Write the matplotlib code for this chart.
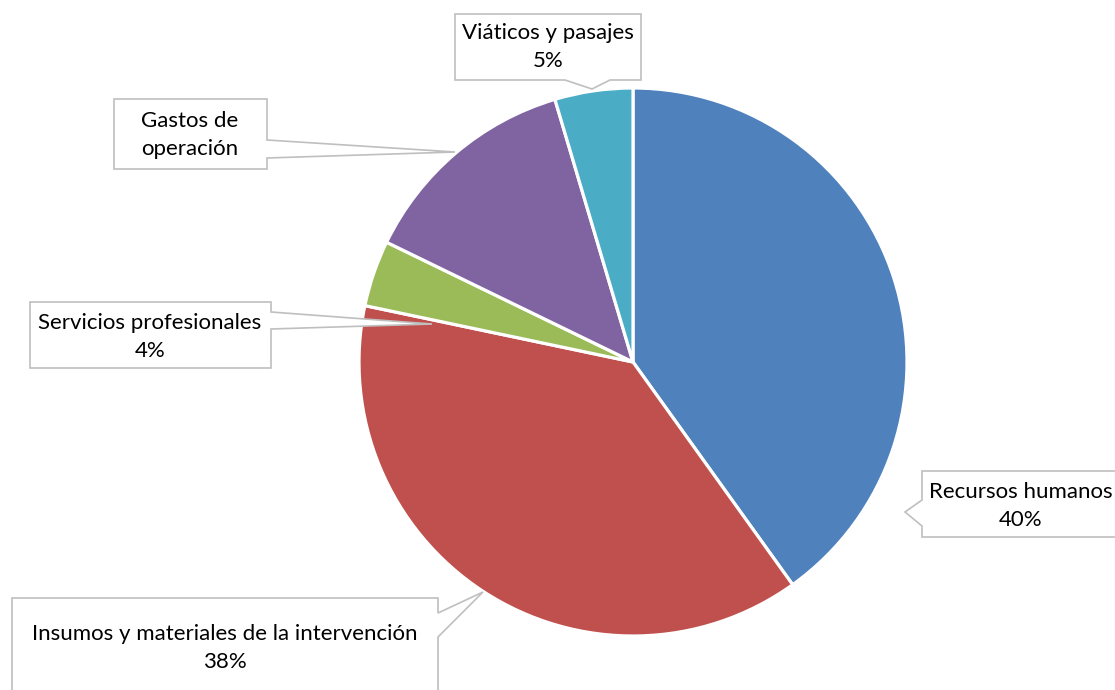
import matplotlib
matplotlib.use("Agg")
import matplotlib.pyplot as plt
from matplotlib.patches import Polygon

categories = ["Recursos humanos", "Insumos y materiales de la intervención",
              "Servicios profesionales", "Gastos de operación", "Viáticos y pasajes"]
values = [40.1, 38.2, 3.9, 13.2, 4.6]
show_pct = [True, True, True, False, True]
colors = ["#4F81BD", "#C0504D", "#9BBB59", "#8064A2", "#4BACC6"]

W, H = 1115, 690
fig = plt.figure(figsize=(W / 100, H / 100), dpi=100)
ax = fig.add_axes([0, 0, 1, 1])

cx, cy, R = 633, H - 362, 274
ax.pie(values, colors=colors, startangle=90, counterclock=False,
       center=(cx, cy), radius=R,
       wedgeprops=dict(edgecolor="white", linewidth=2.3))
ax.set_xlim(0, W)
ax.set_ylim(0, H)
ax.set_aspect("equal")
ax.axis("off")

# callout boxes (screen pixel layout: box, pointer)
layout = {
    "Viáticos y pasajes": dict(box=(455, 14, 641, 80), side="bottom", base=(565, 610), tip=(592, 89), txt=(548, 47)),
    "Gastos de operación": dict(box=(114, 99, 267, 169), side="right", base=(140, 158), tip=(455, 152), txt=(190, 135)),
    "Servicios profesionales": dict(box=(30, 302, 271, 368), side="right", base=(312, 329), tip=(432, 324), txt=(150, 337)),
    "Insumos y materiales de la intervención": dict(box=(12, 598, 438, 705), side="right", base=(613, 637), tip=(483, 592), txt=(225, 648)),
    "Recursos humanos": dict(box=(922, 471, 1130, 537), side="left", base=(500, 526), tip=(905, 512), txt=(1021, 506)),
}
label_text = {
    "Gastos de operación": "Gastos de\noperación",
}

def Y(y):
    return H - y

for cat, val, sp in zip(categories, values, show_pct):
    L = layout[cat]
    x0, y0, x1, y1 = L["box"]
    b0, b1 = L["base"]
    tx, ty = L["tip"]
    if L["side"] == "bottom":
        pts = [(x0, y0), (x1, y0), (x1, y1), (b1, y1), (tx, ty), (b0, y1), (x0, y1)]
    elif L["side"] == "right":
        pts = [(x0, y0), (x1, y0), (x1, b0), (tx, ty), (x1, b1), (x1, y1), (x0, y1)]
    else:
        pts = [(x0, y0), (x1, y0), (x1, y1), (x0, y1), (x0, b1), (tx, ty), (x0, b0)]
    poly = Polygon([(px, Y(py)) for px, py in pts], closed=True,
                   facecolor="white", edgecolor="#BFBFBF", linewidth=1.2, zorder=5)
    ax.add_patch(poly)
    txt = label_text.get(cat, cat)
    if sp:
        txt = f"{txt}\n{round(val):d}%"
    ax.text(L["txt"][0], Y(L["txt"][1]), txt, ha="center", va="center",
            fontsize=16, family="Lato", color="#000000", linespacing=1.48, zorder=6)

fig.savefig("out.png", dpi=100)
